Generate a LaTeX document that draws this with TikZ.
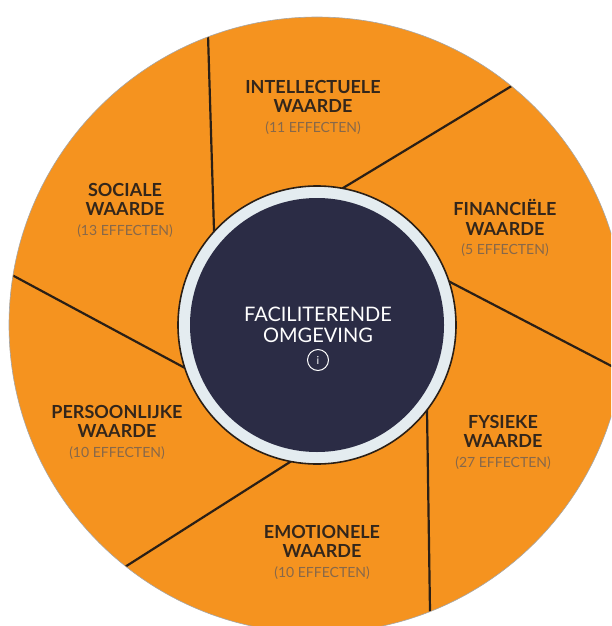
\documentclass[tikz,border=0pt]{standalone}
\usepackage{fontspec}
\setmainfont{Lato}
\usepackage{tikz}

\definecolor{wheelorange}{HTML}{F5931F}
\definecolor{hubnavy}{HTML}{2B2C45}
\definecolor{hubring}{HTML}{E4ECF0}
\definecolor{labeldark}{HTML}{33261B}
\definecolor{labelsoft}{HTML}{87684A}
\definecolor{spokeline}{HTML}{2A1F16}

\begin{document}
\begin{tikzpicture}[x=1pt, y=-1pt,
  every node/.style={inner sep=0pt, outer sep=0pt, align=center},
  valuebox/.style={font=\bfseries\fontsize{18}{19.5}\selectfont, text=labeldark},
  spokestyle/.style={draw=spokeline, line width=2.2pt, shorten <=-12pt, shorten >=-12pt}]
\useasboundingbox (0,0) rectangle (611,626);
\clip (0,0) rectangle (611,626);

\fill[wheelorange] (317,325) circle (308);
\draw[black!35, line width=0.6pt] (317,325) circle (308);

\coordinate (aout) at (208,35);
\coordinate (ain) at (214,230);
\coordinate (bout) at (510,87);
\coordinate (bin) at (348,185);
\coordinate (cout) at (621,371);
\coordinate (cin) at (452,283);
\coordinate (dout) at (430,611);
\coordinate (din) at (427,410);
\coordinate (eout) at (128,565);
\coordinate (ein) at (290,462);
\coordinate (fout) at (12,275);
\coordinate (fin) at (185,368);

\begin{scope}
\clip (317,325) circle (307.5);
\draw[spokestyle] (aout) -- (ain);
\draw[spokestyle] (bout) -- (bin);
\draw[spokestyle] (cout) -- (cin);
\draw[spokestyle] (dout) -- (din);
\draw[spokestyle] (eout) -- (ein);
\draw[spokestyle] (fout) -- (fin);
\end{scope}

\node[circle, fill=hubring, draw=spokeline, line width=1.6pt, minimum size=278pt] (ring) at (317,325) {};
\node[circle, fill=hubnavy, minimum size=254pt] (hub) at (317,325) {};
\node[text=white, font=\fontsize{20}{21.5}\selectfont] (hubtext) at (318,325) {FACILITERENDE\\OMGEVING};
\node[circle, draw=white, line width=1pt, minimum size=21pt, text=white, font=\fontsize{11}{11}\selectfont] (info) at (318,360) {i};

\node[valuebox] (intellectueel) at (313,107) {INTELLECTUELE\\WAARDE\\{\mdseries\fontsize{14}{19.5}\selectfont\color{labelsoft}(11 EFFECTEN)}};
\node[valuebox] (financieel) at (505,228) {FINANCIËLE\\WAARDE\\{\mdseries\fontsize{14}{19.5}\selectfont\color{labelsoft}(5 EFFECTEN)}};
\node[valuebox] (sociaal) at (125,210) {SOCIALE\\WAARDE\\{\mdseries\fontsize{14}{19.5}\selectfont\color{labelsoft}(13 EFFECTEN)}};
\node[valuebox] (persoonlijk) at (117,432) {PERSOONLIJKE\\WAARDE\\{\mdseries\fontsize{14}{19.5}\selectfont\color{labelsoft}(10 EFFECTEN)}};
\node[valuebox] (fysiek) at (503,442) {FYSIEKE\\WAARDE\\{\mdseries\fontsize{14}{19.5}\selectfont\color{labelsoft}(27 EFFECTEN)}};
\node[valuebox] (emotioneel) at (322,552) {EMOTIONELE\\WAARDE\\{\mdseries\fontsize{14}{19.5}\selectfont\color{labelsoft}(10 EFFECTEN)}};
\end{tikzpicture}
\end{document}
